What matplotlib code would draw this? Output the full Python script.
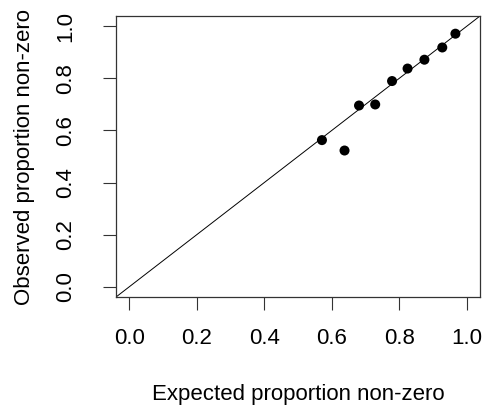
import numpy as np
import matplotlib
matplotlib.use("Agg")
import matplotlib.pyplot as plt

plt.rcParams['font.family'] = ['Liberation Sans', 'DejaVu Sans']

# expected vs observed proportion of non-zero values
expected = [0.571, 0.638, 0.681, 0.729, 0.779, 0.825, 0.875, 0.928, 0.967]
observed = [0.563, 0.523, 0.696, 0.700, 0.790, 0.838, 0.872, 0.919, 0.972]
ticks = [0.0, 0.2, 0.4, 0.6, 0.8, 1.0]
tick_labels = ["0.0", "0.2", "0.4", "0.6", "0.8", "1.0"]

fig = plt.figure(figsize=(4.82, 4.09), dpi=100)
ax = fig.add_axes([0.2407, 0.2738, 0.7552, 0.6871])

ax.scatter(expected, observed, s=52, color='black', edgecolors='none', zorder=3)
ax.plot([-0.1, 1.1], [-0.1, 1.1], color='black', lw=0.7)  # y = x line

ax.set_xlim(-0.04, 1.04)
ax.set_ylim(-0.04, 1.04)
ax.set_xticks(ticks)
ax.set_xticklabels(tick_labels)
ax.set_yticks(ticks)
ax.set_yticklabels(tick_labels, rotation=90, va='center')

ax.tick_params(axis='both', length=9.4, width=0.8, labelsize=16, color='#333333')
ax.tick_params(axis='x', pad=13)
ax.tick_params(axis='y', pad=19.5)
for s in ax.spines.values():
    s.set_linewidth(0.9)
    s.set_color('#333333')

ax.set_xlabel('Expected proportion non-zero', fontsize=16)
ax.set_ylabel('Observed proportion non-zero', fontsize=16)
ax.xaxis.set_label_coords(0.5, -0.308)
ax.yaxis.set_label_coords(-0.222, 0.5)

fig.savefig('out.png', dpi=100)
